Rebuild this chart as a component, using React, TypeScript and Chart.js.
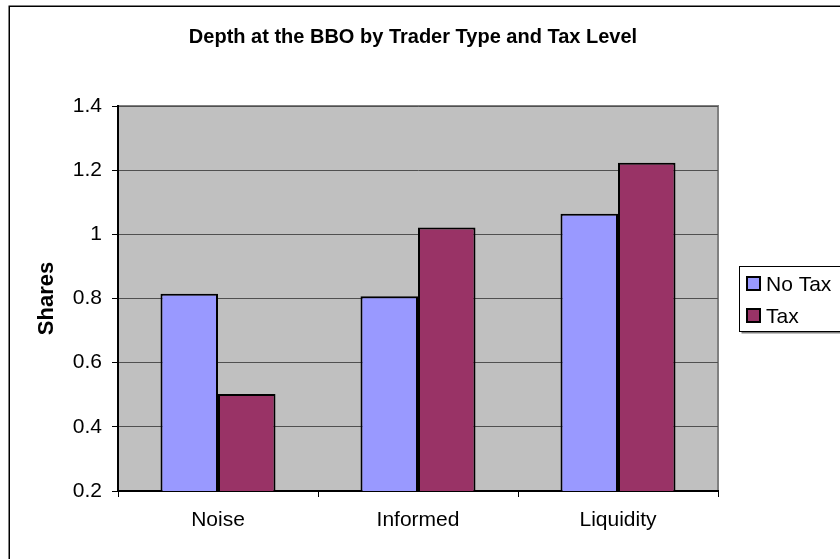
import React, { useEffect, useRef } from "react";
import { Chart, registerables } from "chart.js";

Chart.register(...registerables);

const TITLE = "Depth at the BBO by Trader Type and Tax Level";
const categories = ["Noise", "Informed", "Liquidity"];
const noTax = [0.815, 0.807, 1.064];
const tax = [0.502, 1.021, 1.223];
const seriesNames = ["No Tax", "Tax"];
const seriesColors = ["#9999FF", "#993366"];
const yAxisTitle = "Shares";
const yTickValues = [0.2, 0.4, 0.6, 0.8, 1.0, 1.2, 1.4];
const yTickLabels = ["0.2", "0.4", "0.6", "0.8", "1", "1.2", "1.4"];
const yMin = 0.2;
const yMax = 1.4;
const yStep = 0.2;

const FONT = "Arial, 'Liberation Sans', sans-serif";

const decorPlugin = {
  id: "decor",
  beforeDraw(chart: any) {
    const { ctx, chartArea } = chart;
    ctx.save();
    ctx.fillStyle = "#FFFFFF";
    ctx.fillRect(0, 0, chart.width, chart.height);
    ctx.strokeStyle = "#000000";
    ctx.lineWidth = 1.5;
    ctx.strokeRect(9.25, 6.25, chart.width + 20, chart.height + 20);
    ctx.fillStyle = "#C0C0C0";
    ctx.fillRect(chartArea.left, chartArea.top, chartArea.right - chartArea.left, chartArea.bottom - chartArea.top);
    ctx.strokeStyle = "#808080";
    ctx.lineWidth = 2;
    ctx.beginPath();
    ctx.moveTo(chartArea.left, chartArea.top);
    ctx.lineTo(chartArea.right, chartArea.top);
    ctx.lineTo(chartArea.right, chartArea.bottom);
    ctx.stroke();
    ctx.restore();
  },
  afterDraw(chart: any) {
    const { ctx } = chart;
    ctx.save();
    const lx = 739.5, ly = 266.5, lw = 200, lh = 65;
    ctx.fillStyle = "#808080";
    ctx.fillRect(lx + 2, ly + lh, lw, 2);
    ctx.fillStyle = "#FFFFFF";
    ctx.fillRect(lx, ly, lw, lh);
    ctx.strokeStyle = "#000000";
    ctx.lineWidth = 1;
    ctx.strokeRect(lx, ly, lw, lh);
    const ds = chart.data.datasets;
    const rows = [284, 316];
    ds.forEach((d: any, i: number) => {
      const cy = rows[i];
      ctx.fillStyle = d.backgroundColor;
      ctx.fillRect(747, cy - 7, 13, 13);
      ctx.strokeStyle = "#000000";
      ctx.lineWidth = 2;
      ctx.strokeRect(747, cy - 7, 13, 13);
      ctx.fillStyle = "#000000";
      ctx.font = `21px ${FONT}`;
      ctx.textBaseline = "middle";
      ctx.textAlign = "left";
      ctx.fillText(d.label, 766, cy + 1);
    });
    ctx.restore();
  },
};

export default function App() {
  const ref = useRef<HTMLCanvasElement>(null);
  useEffect(() => {
    if (!ref.current) return;
    const chart = new Chart(ref.current, {
      type: "bar",
      data: {
        labels: categories,
        datasets: [
          {
            label: seriesNames[0],
            data: noTax,
            backgroundColor: seriesColors[0],
            borderColor: "#000000",
            borderWidth: 2,
            categoryPercentage: 0.575,
            barPercentage: 1,
          },
          {
            label: seriesNames[1],
            data: tax,
            backgroundColor: seriesColors[1],
            borderColor: "#000000",
            borderWidth: 2,
            categoryPercentage: 0.575,
            barPercentage: 1,
          },
        ],
      },
      options: {
        responsive: false,
        animation: false,
        devicePixelRatio: 1,
        layout: { padding: { left: 0, right: 14, top: 0, bottom: 0 } },
        plugins: {
          legend: { display: false },
          tooltip: { enabled: false },
          title: {
            display: true,
            text: TITLE,
            color: "#000000",
            font: { family: FONT, size: 20, weight: "bold" },
            padding: { top: 25, bottom: 57 },
          },
        },
        scales: {
          x: {
            afterFit: (s: any) => { s.height = 68; },
            grid: {
              display: true,
              offset: true,
              drawOnChartArea: false,
              drawTicks: true,
              tickLength: 6,
              color: "#000000",
              lineWidth: 1,
            },
            border: { display: true, color: "#000000", width: 2 },
            ticks: { color: "#000000", font: { family: FONT, size: 21 }, padding: 11 },
          },
          y: {
            min: yMin,
            max: yMax,
            afterFit: (s: any) => { s.width = 118; },
            ticks: {
              stepSize: yStep,
              color: "#000000",
              font: { family: FONT, size: 21 },
              padding: 10,
              callback: (v: any) => {
                const idx = yTickValues.findIndex((t) => Math.abs(t - Number(v)) < 1e-6);
                return idx >= 0 ? yTickLabels[idx] : "";
              },
            },
            grid: { color: "#505050", lineWidth: 1, tickLength: 6, drawTicks: true, tickColor: "#000000" },
            border: { display: true, color: "#000000", width: 2 },
            title: {
              display: true,
              text: yAxisTitle,
              color: "#000000",
              font: { family: FONT, size: 22, weight: "bold" },
              padding: { top: 34, bottom: 0 },
            },
          },
          yRight: {
            position: "right",
            display: true,
            afterFit: (s: any) => { s.width = 108; },
            grid: { drawOnChartArea: false, drawTicks: false, display: false },
            border: { display: false },
            ticks: { display: false },
          },
        },
      },
      plugins: [decorPlugin],
    });
    return () => chart.destroy();
  }, []);
  return (
    <div style={{ position: "absolute", left: 0, top: 0, width: 840, height: 559 }}>
      <canvas ref={ref} width={840} height={559} style={{ display: "block" }} />
    </div>
  );
}
